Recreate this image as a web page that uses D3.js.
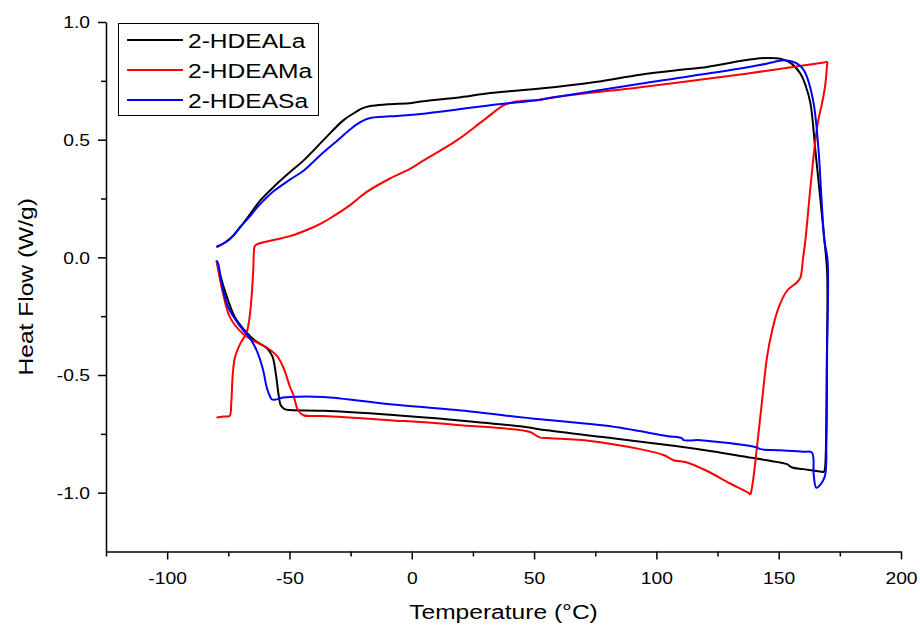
<!DOCTYPE html>
<html lang="en">
<head>
<meta charset="UTF-8">
<title>Heat Flow</title>
<script src="https://cdn.jsdelivr.net/npm/d3@7/dist/d3.min.js"></script>
<style>
  body { margin: 0; background: #fff; }
  text { font-family: Arial, "Liberation Sans", sans-serif; fill: #000; }
</style>
</head>
<body>
<script>
// 数据：温度 (°C) 与热流 (W/g)
const seriesNames = ['2-HDEALa', '2-HDEAMa', '2-HDEASa'];
const seriesColors = ['#000000', '#ff0000', '#0000ff'];

const hdeaLa = [
  [-79.8, 0.043], [-76, 0.065], [-73, 0.092], [-70, 0.13], [-66, 0.185], [-62, 0.241],
  [-56.6, 0.298], [-50, 0.36], [-44.3, 0.411], [-36.2, 0.497], [-28, 0.582], [-22.5, 0.62],
  [-20.5, 0.632], [-17, 0.643], [-10, 0.65], [0, 0.656], [4.7, 0.663], [20, 0.68], [32, 0.698],
  [52.5, 0.717], [75, 0.745], [93.4, 0.776], [110, 0.797], [120.7, 0.809], [134.3, 0.834],
  [140, 0.843], [145.2, 0.847], [150.7, 0.844], [155, 0.825], [158.9, 0.78], [161, 0.73],
  [163, 0.653], [165, 0.454], [167, 0.25], [168.7, 0.071], [169.8, -0.064], [169.6, -0.5],
  [169.2, -0.85], [168.8, -0.905], [168.4, -0.912], [167.5, -0.911], [160, -0.9], [155.5, -0.893],
  [153.4, -0.879], [150.7, -0.872], [134.3, -0.844], [120, -0.82], [107, -0.801], [79.8, -0.766],
  [55.2, -0.735], [45.7, -0.72], [18.4, -0.692], [-8.9, -0.669], [-36.2, -0.652], [-49.8, -0.649],
  [-52, -0.645], [-53.5, -0.63], [-54.5, -0.58], [-55.5, -0.5], [-57, -0.42], [-59.3, -0.385],
  [-64.1, -0.354], [-68.2, -0.312], [-72.3, -0.255], [-76.4, -0.142], [-79.1, -0.043], [-79.8, -0.014]
];

const hdeaMa = [
  [-79.8, -0.681], [-77, -0.676], [-74.5, -0.674], [-73.8, -0.62], [-73.2, -0.5], [-72.3, -0.426],
  [-70.2, -0.369], [-67.5, -0.319], [-66.5, -0.27], [-65.5, -0.17], [-64.8, -0.05], [-64.5, 0.03],
  [-64.2, 0.047], [-63.4, 0.055], [-56, 0.075], [-49.8, 0.09], [-40.3, 0.128], [-36.2, 0.149],
  [-33.4, 0.166], [-25.2, 0.222], [-18.4, 0.278], [-8.9, 0.335], [-0.7, 0.376], [4.7, 0.411],
  [18.4, 0.497], [29.3, 0.582], [37.5, 0.646], [41.6, 0.66], [52.5, 0.67], [56.6, 0.678],
  [93.4, 0.723], [134.3, 0.777], [160, 0.815], [168.5, 0.828], [169.8, 0.83], [169.7, 0.81],
  [169.1, 0.738], [167.7, 0.653], [166.3, 0.589], [165, 0.497], [163, 0.3], [160.9, 0.071],
  [160, 0], [158.9, -0.085], [157.5, -0.106], [153.4, -0.142], [150, -0.213], [147.3, -0.312],
  [145.2, -0.426], [143.2, -0.61], [141.1, -0.809], [139.5, -0.95], [138.7, -0.998], [138.4, -1.007],
  [137.5, -1.0], [130, -0.96], [120.7, -0.908], [112.5, -0.872], [107, -0.862], [102.9, -0.84],
  [93.4, -0.815], [72.9, -0.78], [56.6, -0.769], [52.5, -0.766], [51.1, -0.759], [48.4, -0.742],
  [18.4, -0.712], [-8.9, -0.692], [-36.2, -0.674], [-44.3, -0.671], [-46.4, -0.652], [-47, -0.638],
  [-48.4, -0.585], [-49.8, -0.55], [-52.5, -0.468], [-55.2, -0.418], [-59.3, -0.383], [-64.8, -0.354],
  [-68.9, -0.326], [-74.3, -0.255], [-77.1, -0.156], [-79.1, -0.057], [-79.8, -0.014]
];

const hdeaSa = [
  [-79.8, 0.045], [-76, 0.065], [-73, 0.092], [-70, 0.13], [-66.1, 0.175], [-63, 0.215],
  [-60.7, 0.24], [-56, 0.285], [-49.8, 0.33], [-44, 0.37], [-40.3, 0.405], [-36.2, 0.445],
  [-30, 0.5], [-25, 0.545], [-22.5, 0.565], [-19, 0.585], [-16.4, 0.593], [-5, 0.602],
  [4.7, 0.61], [32, 0.646], [52.5, 0.67], [56.6, 0.677], [93.4, 0.738], [134.3, 0.802],
  [145, 0.823], [152, 0.837], [155, 0.833], [157.5, 0.823], [160, 0.8], [161.6, 0.766],
  [164.3, 0.653], [166.3, 0.454], [167.5, 0.25], [168.7, 0.071], [170, -0.014], [169.8, -0.4],
  [169.5, -0.78], [168.7, -0.936], [165.4, -0.979], [164.3, -0.922], [163.6, -0.83], [160, -0.826],
  [150.7, -0.82], [142.5, -0.815], [141, -0.808], [118, -0.777], [111.1, -0.777], [110.5, -0.769],
  [104.3, -0.759], [79.8, -0.716], [52.5, -0.688], [18.4, -0.649], [-8.9, -0.624], [-36.2, -0.593],
  [-49.8, -0.593], [-52.5, -0.596], [-56, -0.605], [-57.3, -0.603], [-58, -0.59], [-59.3, -0.553],
  [-60.7, -0.482], [-62.8, -0.411], [-65.5, -0.354], [-70.9, -0.283], [-75, -0.213], [-77.7, -0.113],
  [-79.1, -0.028], [-79.8, -0.014]
];

const xTicks = [-100, -50, 0, 50, 100, 150, 200];
const xTickLabels = ['-100', '-50', '0', '50', '100', '150', '200'];
const xMinor = [-125, -75, -25, 25, 75, 125, 175];
const yTicks = [1.0, 0.5, 0.0, -0.5, -1.0];
const yTickLabels = ['1.0', '0.5', '0.0', '-0.5', '-1.0'];
const yMinor = [0.75, 0.25, -0.25, -0.75];

const allSeries = [hdeaLa, hdeaMa, hdeaSa];

// 画布
let width = 920, height = 630;
let plotLeft = 106, plotRight = 901, plotTop = 22, plotBottom = 551.5;
let sx = 1.17;   // 原图文字横向略宽

let svg = d3.select('body').append('svg')
    .attr('width', width)
    .attr('height', height);

let x = d3.scaleLinear().domain([-125, 200]).range([plotLeft, plotRight]);
let y = d3.scaleLinear().domain([-1.25, 1.0]).range([plotBottom, plotTop]);

// 曲线
let line = d3.line()
    .curve(d3.curveCatmullRom.alpha(0.5))
    .x(d => x(d[0]))
    .y(d => y(d[1]));

svg.selectAll('path.curve')
    .data(allSeries)
    .enter()
    .append('path')
    .attr('class', 'curve')
    .attr('d', d => line(d))
    .attr('fill', 'none')
    .attr('stroke', (d, i) => seriesColors[i])
    .attr('stroke-width', 2)
    .attr('stroke-linejoin', 'round');

// x 轴
let xAxis = svg.append('g')
    .attr('transform', 'translate(0,' + plotBottom + ')')
    .call(d3.axisBottom(x).tickValues(xTicks).tickSize(8).tickSizeOuter(0)
        .tickFormat((d, i) => xTickLabels[i]));
svg.append('g')
    .attr('transform', 'translate(0,' + plotBottom + ')')
    .call(d3.axisBottom(x).tickValues(xMinor).tickSize(5).tickSizeOuter(0).tickFormat(''))
    .select('.domain').remove();
xAxis.selectAll('text')
    .attr('y', 0).attr('dy', 0)
    .attr('transform', 'translate(0,32.5) scale(' + sx + ',1)')
    .style('font-size', '16.5px')
    .style('font-family', 'Arial, "Liberation Sans", sans-serif');

// y 轴
let yAxis = svg.append('g')
    .attr('transform', 'translate(' + plotLeft + ',0)')
    .call(d3.axisLeft(y).tickValues(yTicks).tickSize(8).tickSizeOuter(0)
        .tickFormat((d, i) => yTickLabels[i]));
svg.append('g')
    .attr('transform', 'translate(' + plotLeft + ',0)')
    .call(d3.axisLeft(y).tickValues(yMinor).tickSize(5).tickSizeOuter(0).tickFormat(''))
    .select('.domain').remove();
yAxis.selectAll('text')
    .attr('x', 0).attr('dy', '0.36em')
    .attr('transform', 'translate(-16,0) scale(' + sx + ',1)')
    .style('font-size', '16.5px')
    .style('font-family', 'Arial, "Liberation Sans", sans-serif');

svg.selectAll('.domain, .tick line')
    .attr('stroke', '#000')
    .attr('stroke-width', 1.5);

// 轴标题
svg.append('text')
    .attr('transform', 'translate(' + ((plotLeft + plotRight) / 2) + ',619) scale(' + sx + ',1)')
    .attr('text-anchor', 'middle')
    .style('font-size', '21px')
    .text('Temperature (°C)');

svg.append('text')
    .attr('transform', 'translate(33,' + ((plotTop + plotBottom) / 2) + ') rotate(-90) scale(' + sx + ',1)')
    .attr('text-anchor', 'middle')
    .style('font-size', '21px')
    .text('Heat Flow (W/g)');

// 图例
let legend = svg.append('g');
legend.append('rect')
    .attr('x', 118.5).attr('y', 23.5)
    .attr('width', 200).attr('height', 92)
    .attr('fill', '#fff')
    .attr('stroke', '#000')
    .attr('stroke-width', 1);

seriesNames.forEach(function (name, i) {
    legend.append('line')
        .attr('x1', 127).attr('x2', 183)
        .attr('y1', 40 + i * 30).attr('y2', 40 + i * 30)
        .attr('stroke', seriesColors[i])
        .attr('stroke-width', 2);
    legend.append('text')
        .attr('transform', 'translate(188,' + (48 + i * 30) + ') scale(' + sx + ',1)')
        .style('font-size', '21px')
        .text(name);
});
</script>
</body>
</html>
